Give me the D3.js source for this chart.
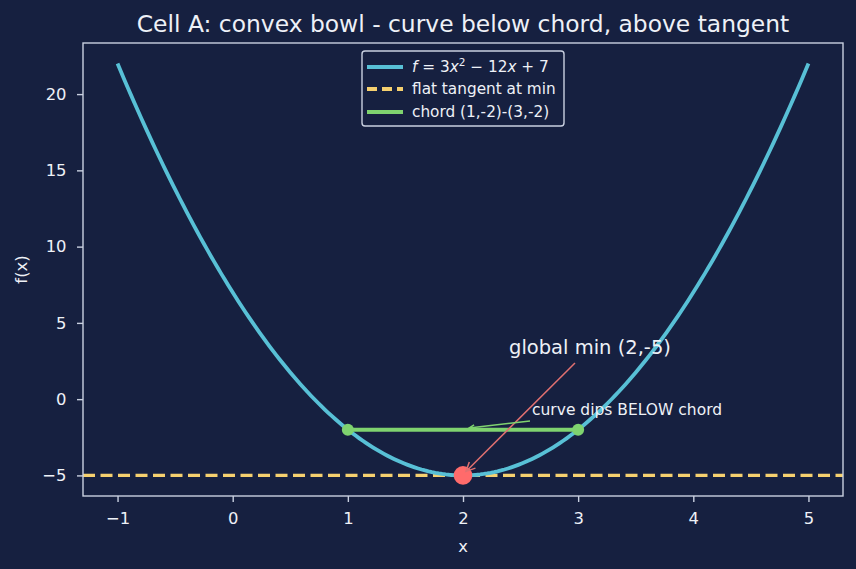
<!DOCTYPE html>
<html><head><meta charset="utf-8">
<script src="https://cdn.jsdelivr.net/npm/d3@7"></script>
<style>body{margin:0;background:#162040;}svg{display:block;font-family:"DejaVu Sans",sans-serif;}</style>
</head><body><svg id="c" width="856" height="569"></svg>
<script>
const xTicks = [-1, 0, 1, 2, 3, 4, 5];
const yTicks = [-5, 0, 5, 10, 15, 20];
const xDomain = [-1.3, 5.3];
const yDomain = [-6.35, 23.35];
const coeffs = [3, -12, 7];
const curveX = d3.range(0, 201).map(i => -1 + i * 0.03);
const chordX = [1, 3];
const chordY = [-2, -2];
const minPoint = [2, -5];
const tangentY = -5;

const W = 856, H = 569;
const m = {l: 83, r: 13, t: 43, b: 73};
const svg = d3.select("#c");
svg.append("rect").attr("width", W).attr("height", H).attr("fill", "#162040");
const x = d3.scaleLinear().domain(xDomain).range([m.l, W - m.r]);
const y = d3.scaleLinear().domain(yDomain).range([H - m.b, m.t]);
const f = v => coeffs[0]*v*v + coeffs[1]*v + coeffs[2];
const fg = "#eef1f7", frame = "#c9d0e0";

const defs = svg.append("defs");
defs.append("clipPath").attr("id","clip").append("rect")
  .attr("x", m.l).attr("y", m.t).attr("width", W-m.l-m.r).attr("height", H-m.t-m.b);

const plot = svg.append("g").attr("clip-path","url(#clip)");
// tangent
plot.append("line").attr("x1", x(xDomain[0])).attr("x2", x(xDomain[1]))
  .attr("y1", y(tangentY)).attr("y2", y(tangentY))
  .attr("stroke", "#f5d06f").attr("stroke-width", 3.2).attr("stroke-dasharray", "12,5.5");
// curve
plot.append("path").datum(curveX)
  .attr("d", d3.line().x(d => x(d)).y(d => y(f(d))))
  .attr("fill","none").attr("stroke","#58c0d6").attr("stroke-width",3.8);
// chord
plot.append("line").attr("x1", x(chordX[0])).attr("x2", x(chordX[1]))
  .attr("y1", y(chordY[0])).attr("y2", y(chordY[1]))
  .attr("stroke","#7fd36f").attr("stroke-width",4);
plot.selectAll("circle.ch").data(chordX.map((v,i)=>[v,chordY[i]])).enter().append("circle")
  .attr("cx", d=>x(d[0])).attr("cy", d=>y(d[1])).attr("r",6).attr("fill","#7fd36f");
plot.append("circle").attr("cx", x(minPoint[0])).attr("cy", y(minPoint[1])).attr("r",9.3).attr("fill","#ff6b6b");

// annotations
function arrow(x1,y1,x2,y2,color,w,hs){
  const g = svg.append("g");
  g.append("line").attr("x1",x1).attr("y1",y1).attr("x2",x2).attr("y2",y2)
   .attr("stroke",color).attr("stroke-width",w);
  const a = Math.atan2(y2-y1,x2-x1);
  const p = [[x2 - hs*Math.cos(a-0.45), y2 - hs*Math.sin(a-0.45)],[x2,y2],[x2 - hs*Math.cos(a+0.45), y2 - hs*Math.sin(a+0.45)]];
  g.append("path").attr("d", d3.line()(p)).attr("fill","none").attr("stroke",color).attr("stroke-width",w);
}
arrow(575, 363, x(minPoint[0])+3, y(minPoint[1])-4, "#e07070", 1.5, 10);
svg.append("text").attr("x", 509).attr("y", 354).attr("fill", fg).attr("font-size", 19.5).text("global min (2,-5)");
arrow(530, 421, 469, 428, "#7fd36f", 1.5, 6);
svg.append("text").attr("x", 532).attr("y", 415).attr("fill", fg).attr("font-size", 15.5).text("curve dips BELOW chord");

// axes
const fmt = d => d < 0 ? "\u2212"+Math.abs(d) : d;
const gx = svg.append("g").attr("transform",`translate(0,${H-m.b})`)
  .call(d3.axisBottom(x).tickValues(xTicks).tickSize(6).tickPadding(10).tickFormat(fmt));
const gy = svg.append("g").attr("transform",`translate(${m.l},0)`)
  .call(d3.axisLeft(y).tickValues(yTicks).tickSize(6).tickPadding(10.5).tickFormat(fmt));
[gx,gy].forEach(g => {
  g.select(".domain").remove();
  g.selectAll("line").attr("stroke", frame).attr("stroke-width",1.4);
  g.selectAll("text").attr("fill", fg).attr("font-size", 16.4).attr("font-family","DejaVu Sans");
});
svg.append("rect").attr("x", m.l).attr("y", m.t).attr("width", W-m.l-m.r).attr("height", H-m.t-m.b)
  .attr("fill","none").attr("stroke", frame).attr("stroke-width",1.4);

svg.append("text").attr("x", (m.l + W - m.r)/2).attr("y", 552).attr("text-anchor","middle")
  .attr("fill", fg).attr("font-size", 16.4).text("x");
svg.append("text").attr("transform", `translate(27,${(m.t+H-m.b)/2}) rotate(-90)`).attr("text-anchor","middle")
  .attr("fill", fg).attr("font-size", 16.4).text("f(x)");
svg.append("text").attr("x", (m.l + W - m.r)/2).attr("y", 32).attr("text-anchor","middle")
  .attr("fill", fg).attr("font-size", 23.4).text("Cell A: convex bowl - curve below chord, above tangent");

// legend
const leg = svg.append("g");
leg.append("rect").attr("x",362).attr("y",51).attr("width",202).attr("height",75).attr("rx",3)
  .attr("fill","#162040").attr("stroke", frame).attr("stroke-width",1.4);
const items = [
  {c:"#58c0d6", dash:null},
  {c:"#f5d06f", dash:"10,5", label:"flat tangent at min"},
  {c:"#7fd36f", dash:null, label:"chord (1,-2)-(3,-2)"}
];
const rowY = [67, 89, 112];
items.forEach((it,i) => {
  leg.append("line").attr("x1",367).attr("x2",403).attr("y1",rowY[i]).attr("y2",rowY[i])
    .attr("stroke", it.c).attr("stroke-width",3.8).attr("stroke-dasharray", it.dash);
});
const lf = 15.3;
const t0 = leg.append("text").attr("x",412).attr("y",rowY[0]+5).attr("fill",fg).attr("font-size",lf);
t0.append("tspan").attr("font-style","italic").text("f");
t0.append("tspan").text(" = 3");
t0.append("tspan").attr("font-style","italic").text("x");
t0.append("tspan").attr("font-size",10.5).attr("dy",-6).text("2");
t0.append("tspan").attr("dy",6).text(" \u2212 12");
t0.append("tspan").attr("font-style","italic").text("x");
t0.append("tspan").text(" + 7");
leg.append("text").attr("x",412).attr("y",rowY[1]+5).attr("fill",fg).attr("font-size",lf).text(items[1].label);
leg.append("text").attr("x",412).attr("y",rowY[2]+5).attr("fill",fg).attr("font-size",lf).text(items[2].label);
</script></body></html>
